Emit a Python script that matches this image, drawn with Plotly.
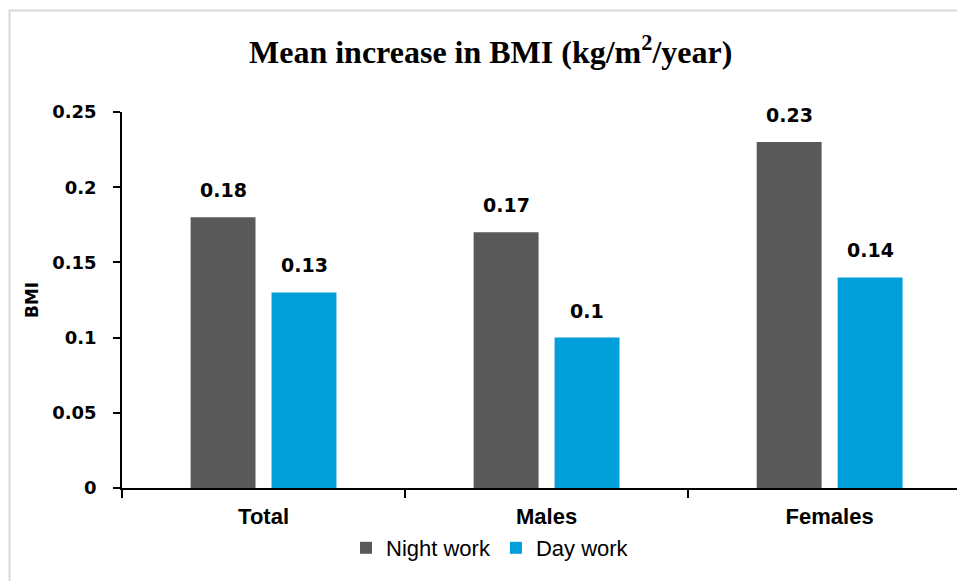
import plotly.graph_objects as go

# Mean yearly BMI increase by group and work schedule
categories = ["Total", "Males", "Females"]
night_work = [0.18, 0.17, 0.23]
day_work = [0.13, 0.10, 0.14]
series_names = ["Night work", "Day work"]
y_ticks = [0, 0.05, 0.1, 0.15, 0.2, 0.25]

NIGHT_COLOR = "#595959"
DAY_COLOR = "#009FD9"

W, H = 957, 581
M_L, M_R, M_T, M_B = 122, 0, 112, 93
plot_w = W - M_L - M_R
plot_h = H - M_T - M_B

fig = go.Figure()
fig.add_trace(go.Bar(name=series_names[0], x=categories, y=night_work,
                     marker=dict(color=NIGHT_COLOR, line=dict(width=0))))
fig.add_trace(go.Bar(name=series_names[1], x=categories, y=day_work,
                     marker=dict(color=DAY_COLOR, line=dict(width=0))))

bargap = 0.428
bargroupgap = 0.198
# half the distance between the two bar centres inside a group, in pixels
cat_px = plot_w / 2.95
slot_px = cat_px * (1 - bargap) / 2

label_font = dict(family="DejaVu Sans", size=19, color="#000000")
annotations = []
for vals, sign in ((night_work, -1), (day_work, 1)):
    for cat, v in zip(categories, vals):
        annotations.append(dict(
            x=cat, y=v, xref="x", yref="y",
            text=f"<b>{v:g}</b>", showarrow=False,
            xshift=sign * slot_px / 2, yshift=27,
            xanchor="center", yanchor="middle", font=label_font))

# y-axis title
annotations.append(dict(
    x=(32 - M_L) / plot_w, y=(H - M_B - 300) / plot_h,
    xref="paper", yref="paper", text="<b>BMI</b>", textangle=-90,
    showarrow=False, xanchor="center", yanchor="middle",
    font=dict(family="DejaVu Sans", size=17, color="#000000")))

# chart title
annotations.append(dict(
    x=(490 - M_L) / plot_w, y=(H - M_B - 50) / plot_h,
    xref="paper", yref="paper",
    text="<b>Mean increase in BMI (kg/m<sup>2</sup>/year)</b>",
    showarrow=False, xanchor="center", yanchor="middle",
    font=dict(family="Liberation Serif", size=32, color="#000000")))

# light outer frame
frame = dict(
    type="rect", xref="paper", yref="paper",
    x0=(9.5 - M_L) / plot_w, x1=(W + 20 - M_L) / plot_w,
    y0=(H - M_B - (H + 20)) / plot_h, y1=(H - M_B - 10.5) / plot_h,
    line=dict(color="#D9D9D9", width=2), fillcolor="rgba(0,0,0,0)",
    layer="below")

fig.update_layout(
    width=W, height=H,
    margin=dict(l=M_L, r=M_R, t=M_T, b=M_B, pad=0),
    paper_bgcolor="#FFFFFF", plot_bgcolor="#FFFFFF",
    barmode="group", bargap=bargap, bargroupgap=bargroupgap,
    showlegend=True,
    legend=dict(orientation="h", x=(490 - M_L) / plot_w, xanchor="center",
                y=(H - M_B - 548) / plot_h, yanchor="middle",
                font=dict(family="Liberation Sans", size=22, color="#000000"),
                itemwidth=30, tracegroupgap=0, bgcolor="rgba(0,0,0,0)"),
    annotations=annotations,
    shapes=[frame],
)

fig.update_xaxes(
    type="category", range=[-0.5, 2.45],
    showline=True, linecolor="#000000", linewidth=1.5,
    ticks="outside", tickson="boundaries", ticklen=8, tickwidth=1.5,
    tickcolor="#000000", showgrid=False, zeroline=False,
    tickfont=dict(family="Liberation Sans", size=22, color="#000000"),
    ticklabelstandoff=8,
    tickvals=categories, ticktext=[f"<b>{c}</b>" for c in categories])

fig.update_yaxes(
    range=[0, 0.25], tickvals=y_ticks,
    ticktext=[f"<b>{t:g}</b>" for t in y_ticks],
    showline=True, linecolor="#000000", linewidth=1.5,
    ticks="outside", ticklen=7, tickwidth=1.5, tickcolor="#000000",
    showgrid=False, zeroline=False,
    tickfont=dict(family="DejaVu Sans", size=18, color="#000000"),
    ticklabelstandoff=13)

fig.write_html("out.html")
